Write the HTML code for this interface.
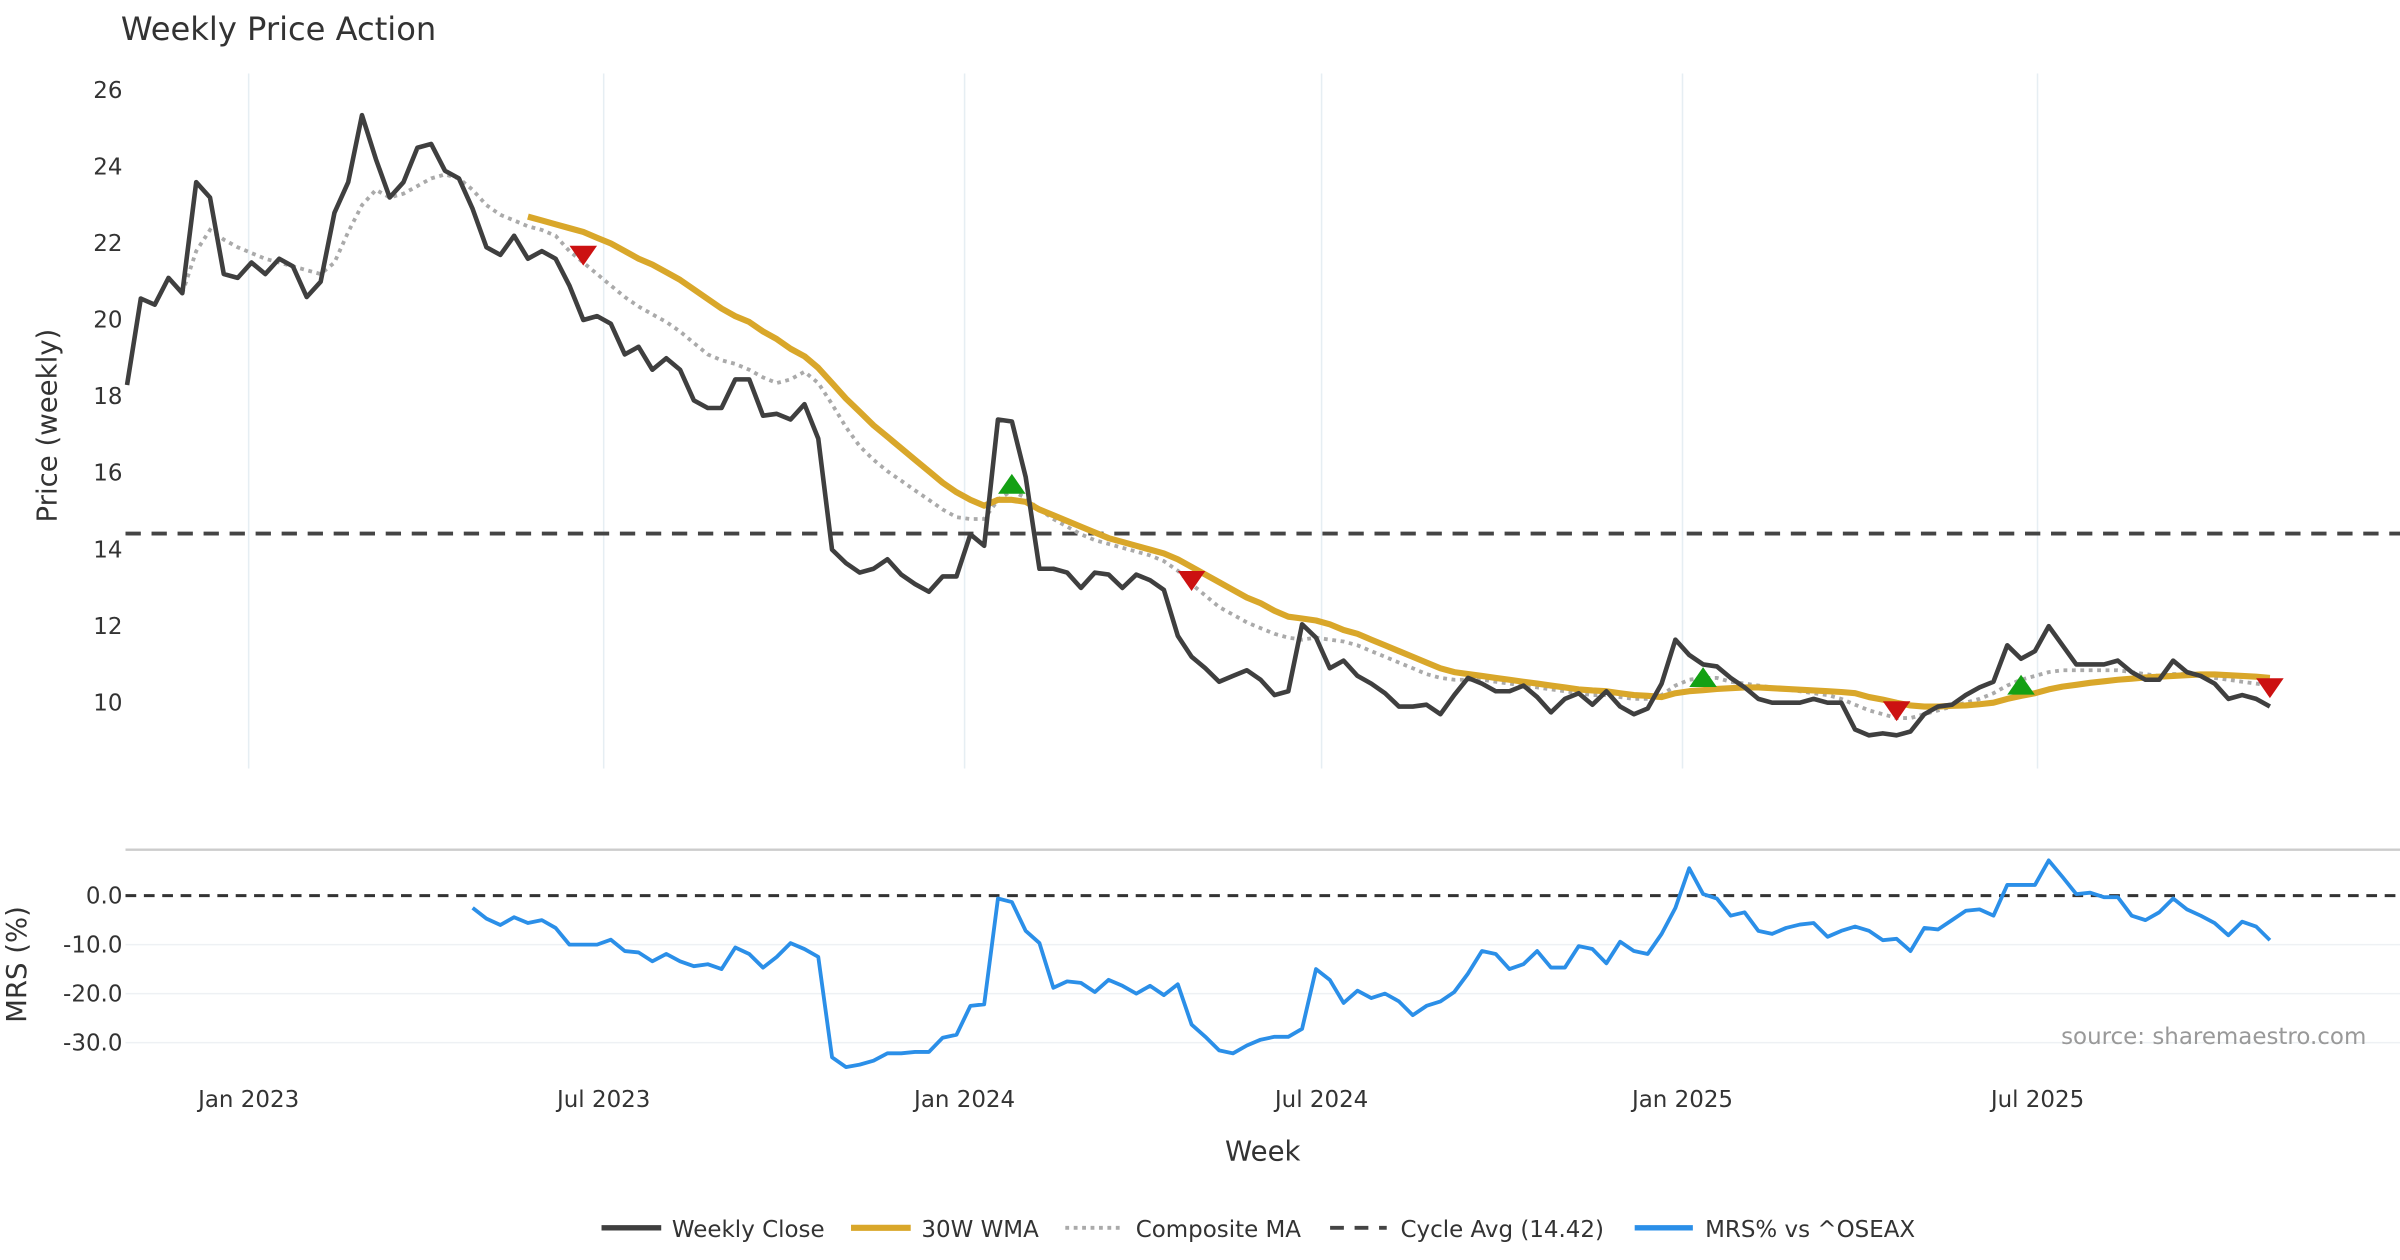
<!DOCTYPE html>
<html><head><meta charset="utf-8"><style>
html,body{margin:0;padding:0;background:#fff;}
svg{display:block;font-family:"DejaVu Sans","Liberation Sans",sans-serif;}
</style></head><body>
<svg id="chart" width="2400" height="1260" viewBox="0 0 1568 823" preserveAspectRatio="none" xmlns="http://www.w3.org/2000/svg">
<rect x="0" y="0" width="1568" height="823" fill="#fff"/>
<text x="79" y="26" font-size="21" fill="#333">Weekly Price Action</text>
<g id="grid"></g>
<g id="marks"></g>
<g id="axes"></g>
<text transform="translate(37,278) rotate(-90)" text-anchor="middle" font-size="18" fill="#333">Price (weekly)</text>
<text transform="translate(17,630) rotate(-90)" text-anchor="middle" font-size="18" fill="#333">MRS (%)</text>
<text x="825" y="758" text-anchor="middle" font-size="18" fill="#333">Week</text>
<text x="1546" y="682" text-anchor="end" font-size="15" fill="#999">source: sharemaestro.com</text>
<g font-size="15" fill="#333">
 <g><line x1="393" y1="802" x2="432" y2="802" stroke="#3f3f3f" stroke-width="3.5"/><text x="439" y="808">Weekly Close</text></g>
 <g><line x1="556" y1="802" x2="595" y2="802" stroke="#d9a72a" stroke-width="4"/><text x="602" y="808">30W WMA</text></g>
 <g><line x1="696" y1="802" x2="734" y2="802" stroke="#aaa" stroke-width="2.5" stroke-dasharray="2.5,3"/><text x="742" y="808">Composite MA</text></g>
 <g><line x1="869" y1="802" x2="906" y2="802" stroke="#444" stroke-width="2.5" stroke-dasharray="9,7"/><text x="915" y="808">Cycle Avg (14.42)</text></g>
 <g><line x1="1068" y1="802" x2="1106" y2="802" stroke="#2b8fe8" stroke-width="3.5"/><text x="1114" y="808">MRS% vs ^OSEAX</text></g>
</g>
</svg>
<script>
const closeVals=[18.3,20.56,20.4,21.1,20.7,23.6,23.2,21.2,21.1,21.5,21.2,21.6,21.4,20.6,21.0,22.8,23.6,25.35,24.2,23.2,23.6,24.5,24.6,23.9,23.7,22.9,21.9,21.7,22.2,21.6,21.8,21.6,20.9,20.0,20.1,19.9,19.1,19.3,18.7,19.0,18.7,17.9,17.7,17.7,18.45,18.45,17.5,17.55,17.4,17.8,16.9,14.0,13.65,13.4,13.5,13.75,13.35,13.1,12.9,13.3,13.3,14.4,14.1,17.4,17.35,15.9,13.5,13.5,13.4,13.0,13.4,13.35,13.0,13.35,13.2,12.95,11.75,11.2,10.9,10.55,10.7,10.85,10.6,10.2,10.3,12.05,11.7,10.9,11.1,10.7,10.5,10.25,9.9,9.9,9.95,9.7,10.2,10.65,10.5,10.3,10.3,10.45,10.15,9.75,10.1,10.25,9.95,10.3,9.9,9.7,9.85,10.5,11.65,11.25,11.0,10.95,10.65,10.4,10.1,10.0,10.0,10.0,10.1,10.0,10.0,9.3,9.15,9.2,9.15,9.25,9.7,9.9,9.95,10.2,10.4,10.55,11.5,11.15,11.35,12.0,11.5,11.0,11.0,11.0,11.1,10.8,10.6,10.6,11.1,10.8,10.7,10.5,10.1,10.2,10.1,9.9];
const wmaStart=29;
const wmaVals=[22.7,22.6,22.5,22.4,22.3,22.15,22.0,21.8,21.6,21.45,21.25,21.05,20.8,20.55,20.3,20.1,19.95,19.7,19.5,19.25,19.05,18.75,18.35,17.95,17.6,17.25,16.95,16.65,16.35,16.05,15.75,15.5,15.3,15.15,15.3,15.3,15.25,15.05,14.9,14.75,14.6,14.45,14.3,14.2,14.1,14.0,13.9,13.75,13.55,13.35,13.15,12.95,12.75,12.6,12.4,12.25,12.2,12.15,12.05,11.9,11.8,11.65,11.5,11.35,11.2,11.05,10.9,10.8,10.75,10.7,10.65,10.6,10.55,10.5,10.45,10.4,10.35,10.32,10.3,10.25,10.2,10.18,10.15,10.25,10.3,10.33,10.36,10.38,10.4,10.4,10.38,10.36,10.34,10.32,10.3,10.28,10.25,10.15,10.08,10.0,9.93,9.9,9.9,9.92,9.93,9.96,10.0,10.1,10.18,10.25,10.35,10.42,10.47,10.52,10.56,10.6,10.63,10.66,10.68,10.7,10.72,10.74,10.74,10.72,10.7,10.68,10.65];
const compStart=4;
const compVals=[20.7,21.8,22.35,22.1,21.9,21.75,21.6,21.5,21.4,21.3,21.2,21.5,22.3,23.0,23.4,23.2,23.3,23.5,23.7,23.8,23.7,23.4,23.0,22.75,22.6,22.45,22.35,22.2,21.8,21.5,21.2,20.9,20.6,20.35,20.15,19.95,19.7,19.4,19.1,18.95,18.85,18.7,18.5,18.35,18.45,18.65,18.35,17.8,17.2,16.7,16.35,16.05,15.8,15.55,15.3,15.05,14.85,14.8,14.8,15.3,15.55,15.35,15.05,14.8,14.6,14.4,14.25,14.15,14.05,13.95,13.85,13.7,13.45,13.1,12.8,12.5,12.3,12.1,11.95,11.8,11.7,11.65,11.7,11.65,11.6,11.5,11.35,11.2,11.05,10.9,10.75,10.65,10.6,10.6,10.6,10.55,10.5,10.45,10.4,10.35,10.3,10.25,10.2,10.2,10.15,10.1,10.1,10.2,10.45,10.6,10.65,10.65,10.55,10.5,10.45,10.4,10.35,10.3,10.25,10.2,10.1,9.95,9.8,9.7,9.6,9.6,9.7,9.8,9.9,10.0,10.1,10.25,10.45,10.6,10.7,10.8,10.85,10.85,10.85,10.85,10.85,10.8,10.75,10.7,10.75,10.75,10.7,10.65,10.6,10.55,10.5,10.45];
const mrsStart=25;
const mrsVals=[-2.5,-4.7,-6,-4.4,-5.6,-5.0,-6.6,-10,-10,-10,-9,-11.3,-11.6,-13.4,-11.9,-13.4,-14.4,-14,-15,-10.6,-11.9,-14.7,-12.5,-9.7,-10.9,-12.5,-33,-35,-34.5,-33.7,-32.2,-32.2,-31.9,-31.9,-29,-28.4,-22.5,-22.2,-0.6,-1.3,-7.2,-9.7,-18.8,-17.5,-17.8,-19.7,-17.2,-18.4,-20,-18.4,-20.3,-18.1,-26.3,-28.8,-31.6,-32.2,-30.6,-29.4,-28.8,-28.8,-27.2,-15,-17.2,-21.9,-19.4,-20.9,-20,-21.6,-24.4,-22.5,-21.6,-19.7,-15.9,-11.3,-11.9,-15,-14,-11.3,-14.7,-14.7,-10.3,-10.9,-13.8,-9.4,-11.3,-11.9,-7.8,-2.5,5.6,0.3,-0.6,-4.1,-3.4,-7.2,-7.8,-6.6,-5.9,-5.6,-8.4,-7.2,-6.3,-7.2,-9.1,-8.8,-11.3,-6.6,-6.9,-5,-3.1,-2.8,-4.1,2.2,2.2,2.2,7.2,3.8,0.3,0.6,-0.3,-0.3,-4.1,-5,-3.4,-0.6,-2.8,-4.1,-5.6,-8.1,-5.3,-6.3,-9.1];
const cycleAvg=14.42;
const sellIdx=[33,77,128,155];
const sellVals=[21.7,13.2,9.8,10.4];
const buyIdx=[64,114,137];
const buyVals=[15.7,10.65,10.45];
const priceTicks=[10,12,14,16,18,20,22,24,26];
const mrsTicks=[0,-10,-20,-30];
const dateTickLabels=["Jan 2023","Jul 2023","Jan 2024","Jul 2024","Jan 2025","Jul 2025"];
const dateTickDays=[62,243,427,609,793,974];

const NS="http://www.w3.org/2000/svg";
const X0=83, STEP=(1483-83)/155, PXDAY=1.2815;
function xIdx(i){return X0+i*STEP;}
function xDay(d){return X0+d*PXDAY;}
function yP(v){return 459-(v-10)*25;}
function yM(v){return 585-v*3.2;}
function mk(tag,attrs,parent){const e=document.createElementNS(NS,tag);for(const k in attrs)e.setAttribute(k,attrs[k]);parent.appendChild(e);return e;}
const grid=document.getElementById('grid'),marks=document.getElementById('marks'),axes=document.getElementById('axes');

dateTickDays.forEach((d,k)=>{
 const x=xDay(d);
 const g=mk('line',{x1:x,y1:48,x2:x,y2:502,stroke:'#e6eef3','stroke-width':1},grid);
 
 
 const t=mk('text',{x:x,y:723,'text-anchor':'middle','font-size':15,fill:'#333'},axes);
 t.textContent=dateTickLabels[k];
 
 
});
priceTicks.forEach(v=>{
 const t=mk('text',{x:80,y:yP(v)+5,'text-anchor':'end','font-size':15,fill:'#333'},axes);
 t.textContent=v;
 
 
});
const border=mk('line',{x1:82,y1:555,x2:1568,y2:555,stroke:'#ccc','stroke-width':1.5},grid);


mrsTicks.forEach(v=>{
 if(v!==0){const g=mk('line',{x1:82,y1:yM(v),x2:1568,y2:yM(v),stroke:'#eef1f4','stroke-width':1},grid);
 
 }
 const t=mk('text',{x:80,y:yM(v)+5,'text-anchor':'end','font-size':15,fill:'#333'},axes);
 t.textContent=v.toFixed(1);
 
 
});
const zl=mk('line',{x1:82,y1:yM(0),x2:1568,y2:yM(0),stroke:'#333','stroke-width':2,'stroke-dasharray':'7,5'},grid);



function path(vals,start,yf){return vals.map((v,i)=>(i?'L':'M')+xIdx(start+i).toFixed(1)+','+yf(v).toFixed(1)).join(' ');}
const ca=mk('line',{x1:82,y1:yP(cycleAvg),x2:1568,y2:yP(cycleAvg),stroke:'#444','stroke-width':2.5,'stroke-dasharray':'10,7'},marks);


const cp=mk('path',{d:path(compVals,compStart,yP),fill:'none',stroke:'#aaa','stroke-width':2.5,'stroke-dasharray':'2.5,3'},marks);


const wp=mk('path',{d:path(wmaVals,wmaStart,yP),fill:'none',stroke:'#d9a72a','stroke-width':4,'stroke-linejoin':'round'},marks);


const cl=mk('path',{d:path(closeVals,0,yP),fill:'none',stroke:'#3f3f3f','stroke-width':3,'stroke-linejoin':'round'},marks);


const mp=mk('path',{d:path(mrsVals,mrsStart,yM),fill:'none',stroke:'#2b8fe8','stroke-width':2.5,'stroke-linejoin':'round'},marks);


sellIdx.forEach((i,k)=>{
 const x=xIdx(i),y=yP(sellVals[k]);
 const p=mk('polygon',{points:`${x-9},${y-6} ${x+9},${y-6} ${x},${y+7}`,fill:'#cc1111'},marks);
 
 
});
buyIdx.forEach((i,k)=>{
 const x=xIdx(i),y=yP(buyVals[k]);
 const p=mk('polygon',{points:`${x-9},${y+6} ${x+9},${y+6} ${x},${y-7}`,fill:'#14a014'},marks);
 
 
});
</script>
</body></html>
